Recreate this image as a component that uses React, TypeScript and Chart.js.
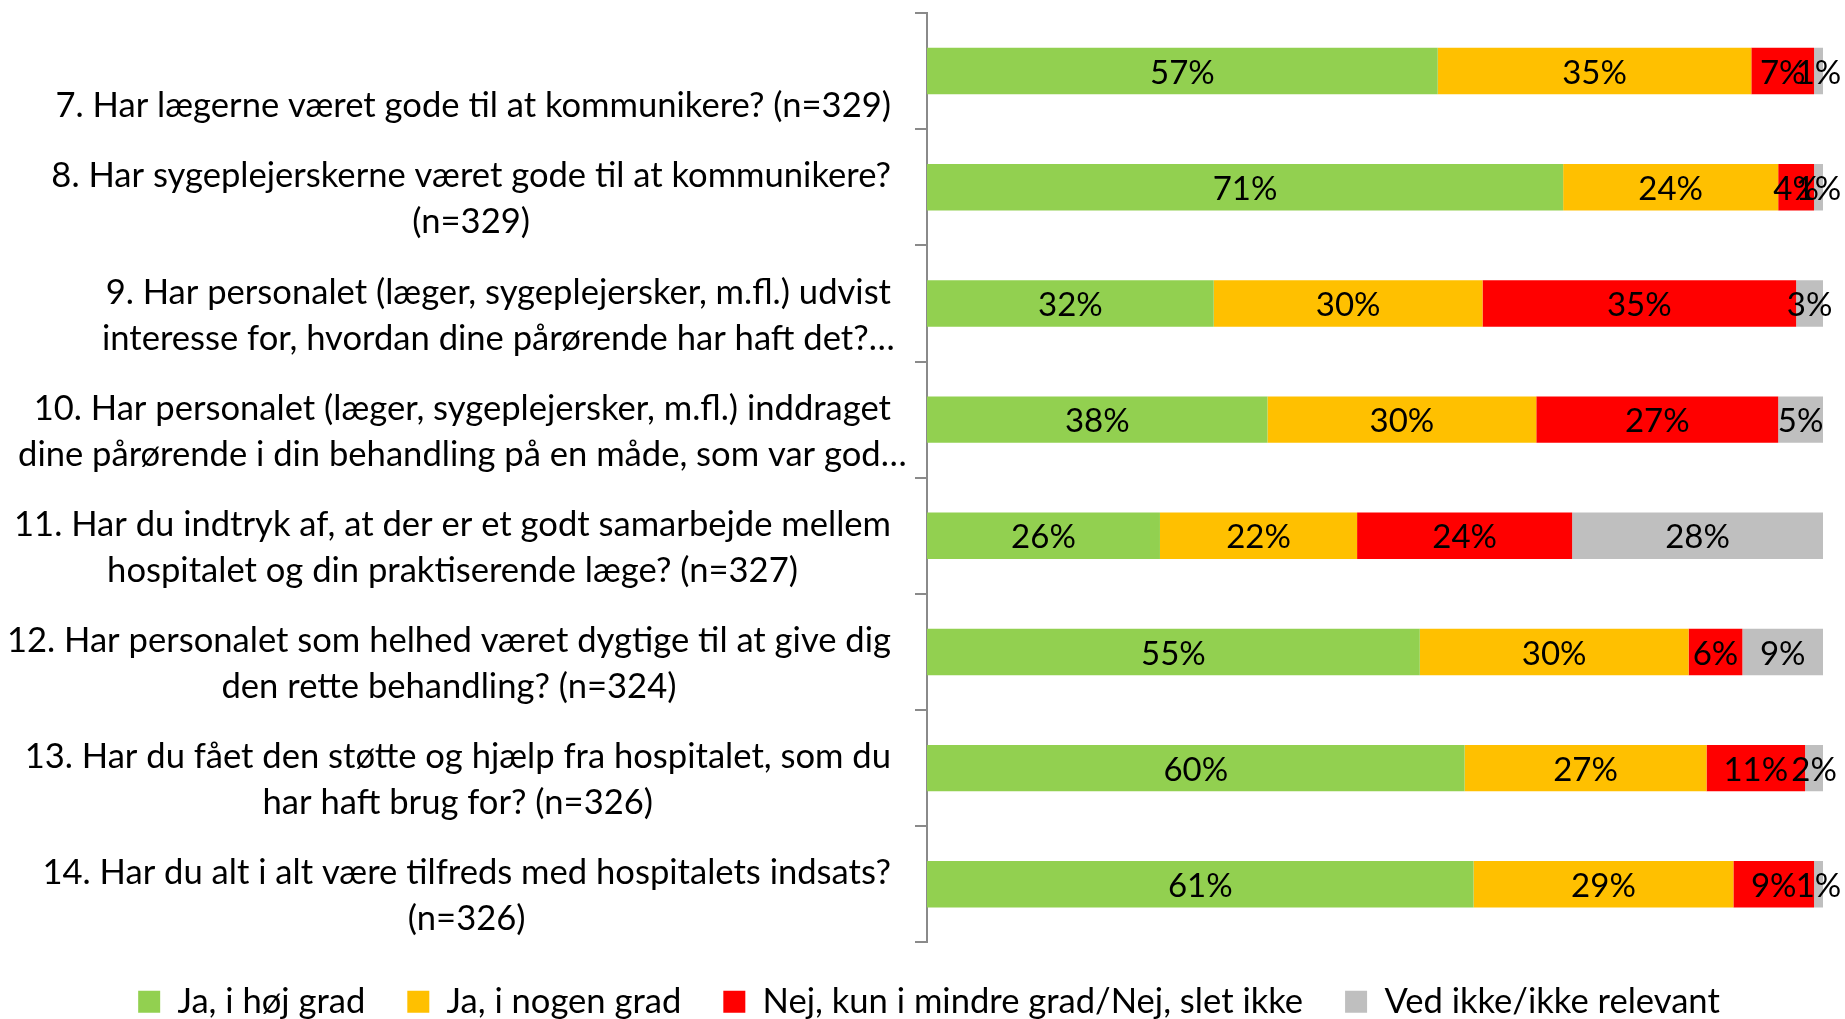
import React, { useEffect, useRef } from "react";
import { Chart, registerables } from "chart.js";

Chart.register(...registerables);

const FONT = 'Lato, "Open Sans", sans-serif';

const categories: string[][] = [
  ["", "7. Har lægerne været gode til at kommunikere? (n=329)"],
  ["8. Har sygeplejerskerne været gode til at kommunikere?", "(n=329)"],
  ["9. Har personalet (læger, sygeplejersker, m.fl.) udvist", "interesse for, hvordan dine pårørende har haft det?…"],
  ["10. Har personalet (læger, sygeplejersker, m.fl.) inddraget", "dine pårørende i din behandling på en måde, som var god…"],
  ["11. Har du indtryk af, at der er et godt samarbejde mellem", "hospitalet og din praktiserende læge? (n=327)"],
  ["12. Har personalet som helhed været dygtige til at give dig", "den rette behandling? (n=324)"],
  ["13. Har du fået den støtte og hjælp fra hospitalet, som du", "har haft brug for? (n=326)"],
  ["14. Har du alt i alt være tilfreds med hospitalets indsats?", "(n=326)"],
];

const seriesNames = [
  "Ja, i høj grad",
  "Ja, i nogen grad",
  "Nej, kun i mindre grad/Nej, slet ikke",
  "Ved ikke/ikke relevant",
];

const jaHoejGrad = [57, 71, 32, 38, 26, 55, 60, 61];
const jaNogenGrad = [35, 24, 30, 30, 22, 30, 27, 29];
const nejMindreGrad = [7, 4, 35, 27, 24, 6, 11, 9];
const vedIkke = [1, 1, 3, 5, 28, 9, 2, 1];

const seriesColors = ["#92D050", "#FFC000", "#FF0000", "#BFBFBF"];

const LABEL_SIZE = 34.6;
const LINE_H = 46;
const DATA_SIZE = 33;
const AXIS_COLOR = "#8A8A8A";

const yLabelPlugin = {
  id: "customYLabels",
  afterDraw(chart: any) {
    const ctx = chart.ctx;
    const y = chart.scales.y;
    const right = chart.chartArea.left - 36;
    ctx.save();
    ctx.font = `${LABEL_SIZE}px ${FONT}`;
    ctx.fillStyle = "#000";
    ctx.textAlign = "center";
    ctx.textBaseline = "middle";
    categories.forEach((lines, i) => {
      const cy = y.getPixelForValue(i) + 12;
      const first = lines.find((l) => l.length > 0) || "";
      const w = ctx.measureText(first).width;
      const cx = right - w / 2;
      lines.forEach((l, j) => {
        ctx.fillText(l, cx, cy + (j - (lines.length - 1) / 2) * LINE_H);
      });
    });
    ctx.restore();
  },
};

const dataLabelPlugin = {
  id: "segmentLabels",
  afterDraw(chart: any) {
    const ctx = chart.ctx;
    ctx.save();
    ctx.font = `${DATA_SIZE}px ${FONT}`;
    ctx.fillStyle = "#000";
    ctx.textAlign = "center";
    ctx.textBaseline = "middle";
    chart.data.datasets.forEach((ds: any, di: number) => {
      const meta = chart.getDatasetMeta(di);
      meta.data.forEach((bar: any, i: number) => {
        const v = ds.data[i];
        const cx = (bar.x + bar.base) / 2;
        ctx.fillText(`${v}%`, cx, bar.y + 2);
      });
    });
    ctx.restore();
  },
};

export default function App() {
  const ref = useRef<HTMLCanvasElement | null>(null);

  useEffect(() => {
    if (!ref.current) return;
    const seriesData = [jaHoejGrad, jaNogenGrad, nejMindreGrad, vedIkke];
    const chart = new Chart(ref.current, {
      type: "bar",
      data: {
        labels: categories,
        datasets: seriesNames.map((name, k) => ({
          label: name,
          data: seriesData[k],
          backgroundColor: seriesColors[k],
          borderWidth: 0,
          barPercentage: 0.4,
          categoryPercentage: 1,
        })),
      },
      options: {
        indexAxis: "y",
        animation: false,
        responsive: true,
        maintainAspectRatio: false,
        layout: { padding: { top: 13, right: 22, bottom: -10, left: 35 } },
        scales: {
          x: {
            stacked: true,
            min: 0,
            max: 100,
            display: false,
          },
          y: {
            stacked: true,
            afterFit: (scale: any) => {
              scale.width = 892;
            },
            ticks: { display: false },
            grid: {
              offset: true,
              drawOnChartArea: false,
              drawTicks: true,
              tickLength: 12,
              color: AXIS_COLOR,
              lineWidth: 2,
            },
            border: { display: true, color: AXIS_COLOR, width: 2 },
          },
        },
        plugins: {
          tooltip: { enabled: false },
          legend: {
            position: "bottom",
            labels: {
              font: { family: FONT, size: 34.6 },
              color: "#000",
              boxWidth: 22,
              boxHeight: 22,
              padding: 42,
            },
          },
        },
      },
      plugins: [yLabelPlugin, dataLabelPlugin],
    });
    return () => chart.destroy();
  }, []);

  return (
    <div style={{ position: "fixed", left: 0, top: 0, width: 1845, height: 1019 }}>
      <canvas ref={ref} />
    </div>
  );
}
